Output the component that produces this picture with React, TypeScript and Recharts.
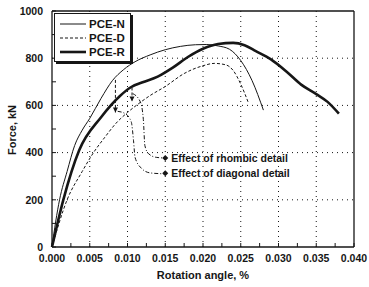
import { LineChart, Line, XAxis, YAxis, Legend, ReferenceLine, ReferenceDot, Label } from 'recharts'

// PCE-N (thin solid)
const nRotation = [0, 0.0005, 0.001, 0.002, 0.003, 0.004, 0.005, 0.0065, 0.008, 0.0095, 0.011, 0.013, 0.015, 0.017, 0.019, 0.0205, 0.022, 0.0235, 0.025, 0.0265, 0.028]
const nForce = [0, 110, 200, 320, 430, 495, 545, 630, 705, 752, 785, 814, 836, 850, 857, 858, 852, 838, 790, 705, 580]

// PCE-D (thin dashed)
const dRotation = [0, 0.002, 0.004, 0.0055, 0.007, 0.0085, 0.01, 0.0115, 0.013, 0.015, 0.0175, 0.02, 0.0215, 0.023, 0.024, 0.025, 0.026]
const dForce = [0, 200, 320, 400, 465, 525, 570, 608, 642, 680, 735, 768, 778, 772, 748, 690, 612]

// PCE-R (thick)
const rRotation = [0, 0.0015, 0.0036, 0.0065, 0.009, 0.0105, 0.012, 0.014, 0.016, 0.018, 0.02, 0.022, 0.024, 0.0255, 0.027, 0.029, 0.031, 0.033, 0.035, 0.0365, 0.038]
const rForce = [0, 200, 410, 550, 640, 678, 698, 722, 760, 805, 840, 860, 865, 855, 830, 795, 745, 688, 648, 615, 565]

// drop arrows between curves
const arrowARotation = [0.0084, 0.0084]
const arrowAForce = [708, 570]
const arrowBRotation = [0.0106, 0.0106]
const arrowBForce = [676, 616]

// leader lines to the annotation texts
const rhombicRotation = [0.0107, 0.0117, 0.0121, 0.0123, 0.0128, 0.0138, 0.015]
const rhombicForce = [650, 615, 540, 430, 395, 380, 377]
const diagonalRotation = [0.0087, 0.0097, 0.0105, 0.0108, 0.011, 0.0118, 0.013, 0.015]
const diagonalForce = [575, 565, 530, 450, 380, 335, 314, 310]

const xTicks = [0, 0.0025, 0.005, 0.0075, 0.01, 0.0125, 0.015, 0.0175, 0.02, 0.0225, 0.025, 0.0275, 0.03, 0.0325, 0.035, 0.0375, 0.04]
const xLabels = ['0.000', '', '0.005', '', '0.010', '', '0.015', '', '0.020', '', '0.025', '', '0.030', '', '0.035', '', '0.040']
const yTicks = [0, 100, 200, 300, 400, 500, 600, 700, 800, 900, 1000]
const yLabels = ['0', '', '200', '', '400', '', '600', '', '800', '', '1000']
const xGrid = [0.005, 0.01, 0.015, 0.02, 0.025, 0.03, 0.035]
const yGrid = [200, 400, 600, 800]

const seriesNames = ['PCE-N', 'PCE-D', 'PCE-R']

const toPoints = (xs: number[], ys: number[]) => xs.map((x, i) => ({ x, y: ys[i] }))

const INK = '#161616'
const FONT = '"Liberation Sans", Arial, sans-serif'

const SERIES_STYLE: Record<string, { width: number; dash?: string }> = {
    'PCE-N': { width: 1 },
    'PCE-D': { width: 1, dash: '3 2' },
    'PCE-R': { width: 2.6 },
}

function LegendBox({ payload }: any) {
    // keep the series order of the original legend
    const names = (payload || []).map((p: any) => p.value)
    const items = seriesNames.filter((n) => names.includes(n))
    return (
        <div
            style={{
                border: `1px solid ${INK}`,
                boxShadow: `2px 2px 0 ${INK}`,
                background: '#fff',
                padding: '3px 5px 2px 5px',
                fontFamily: FONT,
                fontWeight: 'bold',
                fontSize: 11.5,
                color: INK,
            }}
        >
            {items.map((name) => {
                const s = SERIES_STYLE[name]
                return (
                    <div key={name} style={{ display: 'flex', alignItems: 'center', height: 14 }}>
                        <svg width={26} height={6} style={{ marginRight: 3 }}>
                            <line x1={0} y1={3} x2={26} y2={3} stroke={INK} strokeWidth={s.width} strokeDasharray={s.dash} />
                        </svg>
                        <span>{name}</span>
                    </div>
                )
            })}
        </div>
    )
}

const ArrowHead = (props: any) => {
    const { cx, cy, index } = props
    if (index !== 1) return <g key={`a${index}`} />
    return <path key={`a${index}`} d={`M${cx - 2.5},${cy - 5}L${cx + 2.5},${cy - 5}L${cx},${cy}Z`} fill={INK} />
}

const Diamond = (props: any) => {
    const { cx, cy } = props
    return <path d={`M${cx - 3},${cy}L${cx},${cy - 3}L${cx + 3},${cy}L${cx},${cy + 3}Z`} fill={INK} />
}

const tickStyle = { fill: INK, fontSize: 10.5, fontWeight: 'bold', fontFamily: FONT }

export default function App() {
    return (
        <div style={{ position: 'absolute', left: 0, top: 0, width: 369, height: 287, background: '#fff' }}>
            <LineChart width={369} height={287} margin={{ top: 0, right: 0, bottom: 0, left: 0 }}>
                <XAxis
                    type="number"
                    dataKey="x"
                    domain={[0, 0.04]}
                    ticks={xTicks}
                    tickFormatter={(_v: number, i: number) => xLabels[i]}
                    interval={0}
                    height={40}
                    tickSize={-4}
                    tickMargin={12}
                    tick={tickStyle}
                    axisLine={{ stroke: INK, strokeWidth: 1.3 }}
                    tickLine={{ stroke: INK }}
                >
                    <Label
                        content={() => (
                            <text x={203} y={275} textAnchor="middle" dominantBaseline="central" fill={INK} fontSize={11} fontWeight="bold" fontFamily={FONT}>
                                Rotation angle, %
                            </text>
                        )}
                    />
                </XAxis>
                <XAxis
                    xAxisId="top"
                    orientation="top"
                    type="number"
                    domain={[0, 0.04]}
                    ticks={xTicks}
                    tickFormatter={() => ''}
                    interval={0}
                    height={11}
                    tickSize={-3}
                    axisLine={{ stroke: INK, strokeWidth: 1.3 }}
                    tickLine={{ stroke: INK }}
                />
                <YAxis
                    type="number"
                    domain={[0, 1000]}
                    ticks={yTicks}
                    tickFormatter={(_v: number, i: number) => yLabels[i]}
                    interval={0}
                    width={52}
                    tickSize={-4}
                    tickMargin={13}
                    tick={tickStyle}
                    axisLine={{ stroke: INK, strokeWidth: 1.3 }}
                    tickLine={{ stroke: INK }}
                >
                    <Label
                        content={() => (
                            <text x={12} y={130} transform="rotate(-90 12 130)" textAnchor="middle" dominantBaseline="central" fill={INK} fontSize={11} fontWeight="bold" fontFamily={FONT}>
                                Force, kN
                            </text>
                        )}
                    />
                </YAxis>
                <YAxis
                    yAxisId="right"
                    orientation="right"
                    type="number"
                    domain={[0, 1000]}
                    ticks={yTicks}
                    tickFormatter={() => ''}
                    interval={0}
                    width={15}
                    tickSize={-3}
                    axisLine={{ stroke: INK, strokeWidth: 1.3 }}
                    tickLine={{ stroke: INK }}
                />

                {xGrid.map((v) => (
                    <ReferenceLine key={`gx${v}`} x={v} stroke={INK} strokeWidth={1} strokeDasharray="1 4" />
                ))}
                {yGrid.map((v) => (
                    <ReferenceLine key={`gy${v}`} y={v} stroke={INK} strokeWidth={1} strokeDasharray="1 4" />
                ))}

                <Line name="PCE-N" data={toPoints(nRotation, nForce)} dataKey="y" type="monotone" stroke={INK} strokeWidth={1} dot={false} isAnimationActive={false} />
                <Line name="PCE-D" data={toPoints(dRotation, dForce)} dataKey="y" type="monotone" stroke={INK} strokeWidth={1} strokeDasharray="3 2" dot={false} isAnimationActive={false} />
                <Line name="PCE-R" data={toPoints(rRotation, rForce)} dataKey="y" type="monotone" stroke={INK} strokeWidth={2.6} dot={false} isAnimationActive={false} />

                <Line name="arrowA" legendType="none" data={toPoints(arrowARotation, arrowAForce)} dataKey="y" type="linear" stroke={INK} strokeWidth={1} strokeDasharray="3 2" dot={ArrowHead} isAnimationActive={false} />
                <Line name="arrowB" legendType="none" data={toPoints(arrowBRotation, arrowBForce)} dataKey="y" type="linear" stroke={INK} strokeWidth={1} strokeDasharray="3 2" dot={ArrowHead} isAnimationActive={false} />
                <Line name="rhombic" legendType="none" data={toPoints(rhombicRotation, rhombicForce)} dataKey="y" type="monotone" stroke={INK} strokeWidth={1} strokeDasharray="4 2 1 2" dot={false} isAnimationActive={false} />
                <Line name="diagonal" legendType="none" data={toPoints(diagonalRotation, diagonalForce)} dataKey="y" type="monotone" stroke={INK} strokeWidth={1} strokeDasharray="4 2 1 2" dot={false} isAnimationActive={false} />

                <ReferenceDot x={0.015} y={377} r={3} shape={Diamond}>
                    <Label value="Effect of rhombic detail" position="right" offset={3} fill={INK} fontSize={10.5} fontWeight="bold" fontFamily={FONT} />
                </ReferenceDot>
                <ReferenceDot x={0.015} y={312} r={3} shape={Diamond}>
                    <Label value="Effect of diagonal detail" position="right" offset={3} fill={INK} fontSize={10.5} fontWeight="bold" fontFamily={FONT} />
                </ReferenceDot>

                <Legend
                    layout="vertical"
                    align="center"
                    verticalAlign="middle"
                    content={<LegendBox />}
                    wrapperStyle={{ top: 13, left: 54, width: 'auto' }}
                />
            </LineChart>
        </div>
    )
}
